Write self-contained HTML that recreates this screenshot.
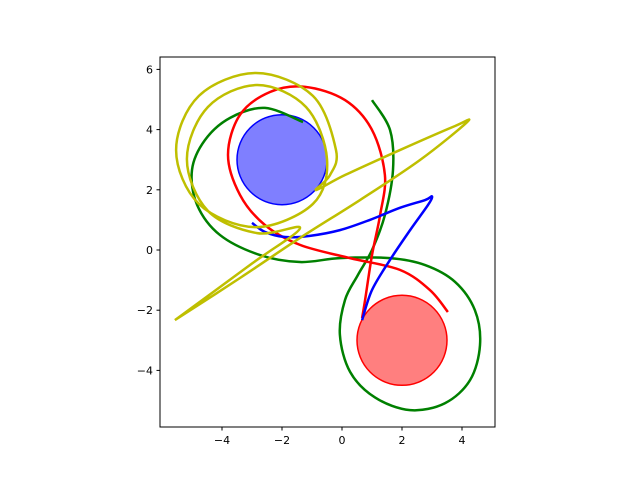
<!DOCTYPE html>
<html><head><meta charset="utf-8"><style>
body{margin:0;background:#fff}
svg{display:block}
text{font-family:"DejaVu Sans","Liberation Sans",sans-serif;font-size:11px;fill:#000}
</style></head><body>
<svg id="chart" width="640" height="480" viewBox="0 0 640 480">
<rect x="0" y="0" width="640" height="480" fill="#fff"/>
<g id="plot"></g>
<g id="axes"></g>
</svg>
<script>
const xTicks=[-4,-2,0,2,4];
const yTicks=[-4,-2,0,2,4,6];
const circleBlue=[-2,3,1.5];
const circleRed=[2,-3,1.5];
const blueX=[0.67,1.0,1.6,2.27,2.87,3.0,2.77,1.93,0.93,-0.07,-1.07,-1.9,-2.57,-3.0];
const blueY=[-2.33,-1.33,-0.33,0.66,1.5,1.78,1.66,1.4,1.0,0.66,0.47,0.43,0.6,0.9];
const redX=[3.53,2.93,1.93,0.27,-1.4,-2.57,-3.4,-3.8,-3.4,-2.4,-1.23,0.1,1.0,1.43,1.27,1.0,0.77,0.67];
const redY=[-2.06,-1.33,-0.66,-0.27,0.17,0.83,1.83,3.16,4.49,5.25,5.42,4.98,3.99,2.49,1.16,-0.17,-1.66,-2.26];
const greenX=[1.0,1.6,1.7,1.43,1.0,0.53,0.1,-0.07,0.27,1.1,2.27,3.43,4.27,4.6,4.43,3.77,2.77,1.6,-0.07,-1.4,-2.73,-4.07,-4.83,-5.0,-4.57,-3.73,-2.57,-1.3];
const greenY=[4.98,3.99,2.66,1.16,0,-0.83,-1.66,-2.82,-4.05,-4.9,-5.32,-5.09,-4.32,-3.16,-2.0,-1.06,-0.5,-0.27,-0.27,-0.4,-0.17,0.5,1.5,2.66,3.65,4.39,4.72,4.25];
const yellowX=[-5.57,-3.4,-1.4,0.6,2.6,4.17,3.77,1.93,0.1,-0.87,-0.4,-0.2,-0.97,-2.87,-4.77,-5.53,-4.77,-2.87,-0.97,-0.5,-1.2,-2.83,-4.47,-5.17,-4.47,-2.83,-1.4,-3.0,-5.57];
const yellowY=[-2.33,-0.93,0.4,1.66,2.99,4.25,4.12,3.32,2.49,1.99,2.49,3.32,5.12,5.88,5.12,3.32,1.53,0.76,1.53,3.02,4.75,5.48,4.75,3.02,1.3,0.56,0.73,-0.45,-2.33];
const X0=160,X1=495,Y0=57,Y1=427;
const sx=v=>342+v*30, sy=v=>250-v*30.1;
const NS='http://www.w3.org/2000/svg';
const plot=document.getElementById('plot'), axes=document.getElementById('axes');
function mk(t,a,p){const e=document.createElementNS(NS,t);for(const k in a)e.setAttribute(k,a[k]);p.appendChild(e);return e;}
function circ(c,fill,stroke,name){const e=mk('circle',{cx:sx(c[0]),cy:sy(c[1]),r:c[2]*30,fill:fill,'fill-opacity':0.5,stroke:stroke,'stroke-width':1.5},plot);

}
function curve(xs,ys,col,name){const p=xs.map((x,i)=>[sx(x),sy(ys[i])]);let d='M'+p[0][0]+','+p[0][1];
for(let i=0;i<p.length-1;i++){const a=p[Math.max(0,i-1)],b=p[i],c=p[i+1],e=p[Math.min(p.length-1,i+2)];
d+=` C${b[0]+(c[0]-a[0])/6},${b[1]+(c[1]-a[1])/6} ${c[0]-(e[0]-b[0])/6},${c[1]-(e[1]-b[1])/6} ${c[0]},${c[1]}`;}
const el=mk('path',{d:d,fill:'none',stroke:col,'stroke-width':2.5,'stroke-linejoin':'round'},plot);

}
circ(circleBlue,'#0000ff','#0000ff','blue-disc');
circ(circleRed,'#ff0000','#ff0000','red-disc');
curve(greenX,greenY,'#008000','green-trajectory');
curve(redX,redY,'#ff0000','red-trajectory');
curve(blueX,blueY,'#0000ff','blue-trajectory');
curve(yellowX,yellowY,'#bfbf00','yellow-trajectory');
const fr=mk('rect',{x:X0,y:Y0,width:X1-X0,height:Y1-Y0,fill:'none',stroke:'#000','stroke-width':1},axes);


xTicks.forEach(v=>{const x=sx(v);mk('line',{x1:x,x2:x,y1:Y1,y2:Y1+3.5,stroke:'#000'},axes);
const t=mk('text',{x:x,y:Y1+17,'text-anchor':'middle'},axes);t.textContent=String(v).replace('-','\u2212');

});
yTicks.forEach(v=>{const y=sy(v);mk('line',{x1:X0-3.5,x2:X0,y1:y,y2:y,stroke:'#000'},axes);
const t=mk('text',{x:X0-7,y:y+4,'text-anchor':'end'},axes);t.textContent=String(v).replace('-','\u2212');

});
</script>
</body></html>
